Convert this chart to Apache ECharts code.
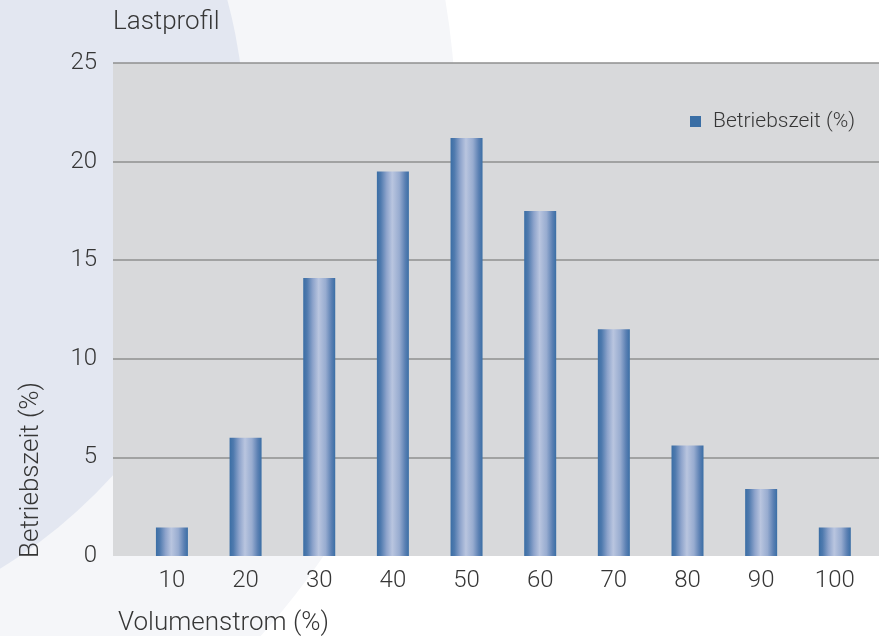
<!DOCTYPE html>
<html>
<head>
<meta charset="utf-8">
<script src="https://cdn.jsdelivr.net/npm/echarts@6/dist/echarts.min.js"></script>
<style>
html,body{margin:0;padding:0;background:#ffffff;}
#chart{width:879px;height:636px;}
</style>
</head>
<body>
<div id="chart"></div>
<script>
// Data
var categories = [10, 20, 30, 40, 50, 60, 70, 80, 90, 100];
var values = [1.45, 6.0, 14.1, 19.5, 21.2, 17.5, 11.5, 5.6, 3.4, 1.45];
var yTicks = [0, 5, 10, 15, 20, 25];
var seriesName = 'Betriebszeit (%)';
var titleText = 'Lastprofil';
var xName = 'Volumenstrom (%)';
var yName = 'Betriebszeit (%)';

var FONT = 'Roboto';
var TXT = '#363636';

var chart = echarts.init(document.getElementById('chart'));

var barGradient = new echarts.graphic.LinearGradient(0, 0, 1, 0, [
  {offset: 0, color: '#3a6ea5'},
  {offset: 0.12, color: '#4f7aae'},
  {offset: 0.3, color: '#8da3cb'},
  {offset: 0.48, color: '#b9c5df'},
  {offset: 0.7, color: '#98acd0'},
  {offset: 0.88, color: '#5b80b3'},
  {offset: 1, color: '#3a6ea5'}
]);

var option = {
  backgroundColor: '#ffffff',
  animation: false,
  graphic: [
    {type: 'circle', z: -20, silent: true, shape: {cx: -305, cy: 127, r: 761}, style: {fill: '#f5f6f9'}},
    {type: 'circle', z: -19, silent: true, shape: {cx: -265, cy: 133, r: 510}, style: {fill: '#e3e7f1'}},
    {type: 'text', left: 113, top: 9, style: {text: titleText, font: '300 26px ' + FONT, fill: TXT}},
    {type: 'text', left: 118, top: 610, style: {text: xName, font: '300 26px ' + FONT, fill: TXT}},
    {type: 'text', x: 31, y: 470, rotation: Math.PI / 2,
      style: {text: yName, font: '300 26px ' + FONT, fill: TXT, align: 'center', verticalAlign: 'middle'}}
  ],
  legend: {
    left: 685, top: 106,
    itemWidth: 11, itemHeight: 11,
    icon: 'rect',
    textStyle: {fontFamily: FONT, fontWeight: 300, fontSize: 21, color: TXT, padding: [0, 0, 0, 7]},
    data: [{name: seriesName, itemStyle: {color: '#3a6ea5'}}]
  },
  grid: {
    left: 113, right: 0, top: 63, bottom: 80,
    show: true, backgroundColor: '#d8d9db', borderWidth: 0
  },
  xAxis: {
    type: 'value',
    min: 2, max: 106, interval: 2,
    axisLine: {show: false},
    axisTick: {show: false},
    splitLine: {show: false},
    axisLabel: {
      fontFamily: FONT, fontWeight: 300, fontSize: 24, color: TXT, margin: 13,
      showMinLabel: false, showMaxLabel: false,
      formatter: function (v) { return categories.indexOf(v) >= 0 ? String(v) : ''; }
    }
  },
  yAxis: {
    type: 'value',
    min: yTicks[0], max: yTicks[yTicks.length - 1], interval: 5,
    axisLine: {show: false},
    axisTick: {show: false},
    axisLabel: {fontFamily: FONT, fontWeight: 300, fontSize: 24, color: TXT, margin: 16},
    splitLine: {
      show: true,
      lineStyle: {color: ['rgba(0,0,0,0)', '#8f8f8f', '#8f8f8f', '#8f8f8f', '#8f8f8f', '#8f8f8f'], width: 1.5}
    }
  },
  series: [{
    name: seriesName,
    type: 'bar',
    barWidth: 32,
    itemStyle: {color: barGradient},
    data: categories.map(function (c, i) { return [c, values[i]]; })
  }]
};
chart.setOption(option);
</script>
</body>
</html>
